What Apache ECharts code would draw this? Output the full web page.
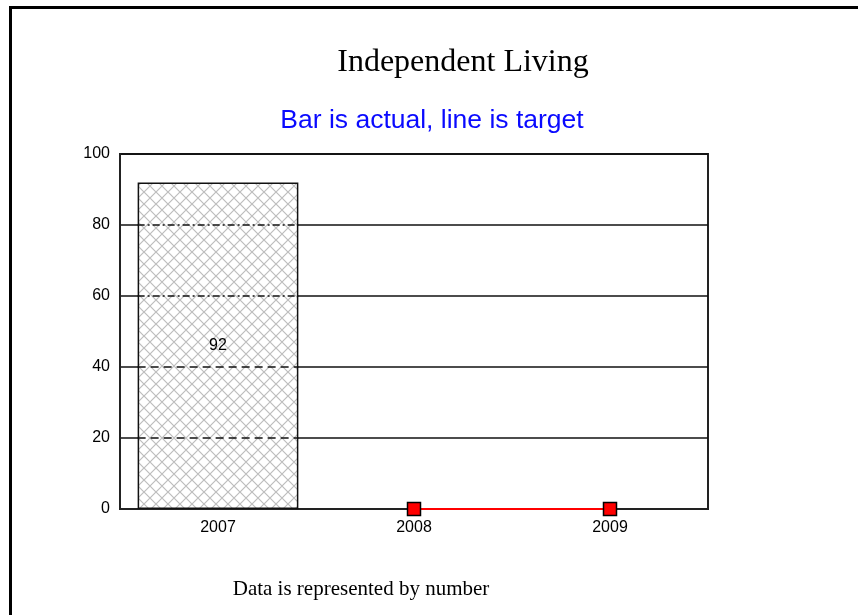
<!DOCTYPE html>
<html>
<head>
<meta charset="utf-8">
<title>Independent Living</title>
<script src="https://cdn.jsdelivr.net/npm/echarts@6/dist/echarts.min.js"></script>
<style>
  html, body { margin: 0; padding: 0; background: #fff; }
  #chart { width: 858px; height: 615px; }
</style>
</head>
<body>
<div id="chart"></div>
<script>
var categories = ['2007', '2008', '2009'];
var actual = [92, null, null];
var target = [null, 0, 0];
var gridLevels = [20, 40, 60, 80];

// crosshatch fill for the bar
function hatch() {
    var c = document.createElement('canvas');
    c.width = 12; c.height = 12;
    var g = c.getContext('2d');
    g.fillStyle = '#fff';
    g.fillRect(0, 0, 12, 12);
    g.strokeStyle = '#bdbdbd';
    g.lineWidth = 1.2;
    g.beginPath();
    g.moveTo(0, 0); g.lineTo(12, 12);
    g.moveTo(12, 0); g.lineTo(0, 12);
    g.stroke();
    return c;
}

// grid lines showing through the bar, dashed
var barLines = [];
for (var i = 0; i < actual.length; i++) {
    if (actual[i] == null) continue;
    for (var j = 0; j < gridLevels.length; j++) {
        if (gridLevels[j] < actual[i]) barLines.push([i, gridLevels[j]]);
    }
}

var chart = echarts.init(document.getElementById('chart'));
chart.setOption({
    animation: false,
    backgroundColor: '#fff',
    title: [
        {
            text: 'Independent Living',
            left: 458, top: 42, textAlign: 'center',
            textStyle: { fontFamily: 'Liberation Serif', fontWeight: 'normal', fontSize: 32, color: '#000' }
        },
        {
            text: 'Bar is actual, line is target',
            left: 427, top: 102, textAlign: 'center',
            textStyle: { fontFamily: 'Liberation Sans', fontWeight: 'normal', fontSize: 26.5, color: '#0a0aff' }
        },
        {
            text: 'Data is represented by number',
            left: 356, top: 574, textAlign: 'center',
            textStyle: { fontFamily: 'Liberation Serif', fontWeight: 'normal', fontSize: 21, color: '#000' }
        }
    ],
    graphic: [
        { type: 'rect', shape: { x: 9, y: 6, width: 849, height: 3 }, style: { fill: '#000' } },
        { type: 'rect', shape: { x: 9, y: 6, width: 3, height: 609 }, style: { fill: '#000' } }
    ],
    grid: {
        left: 120, right: 150, top: 154, bottom: 106,
        show: true, borderColor: '#222', borderWidth: 2, backgroundColor: 'transparent'
    },
    xAxis: {
        type: 'category',
        data: categories,
        axisLine: { lineStyle: { color: '#222', width: 2 } },
        axisTick: { show: false },
        axisLabel: { color: '#000', fontFamily: 'Liberation Sans', fontSize: 16, margin: 11 }
    },
    yAxis: {
        type: 'value',
        min: 0, max: 100, interval: 20,
        axisLine: { show: true, lineStyle: { color: '#222', width: 2 } },
        axisTick: { show: false },
        axisLabel: { color: '#000', fontFamily: 'Liberation Sans', fontSize: 16, margin: 10 },
        splitLine: { lineStyle: { color: '#111', width: 1.6 } }
    },
    series: [
        {
            name: 'Actual',
            type: 'bar',
            data: actual,
            barWidth: '82%',
            itemStyle: {
                color: { image: hatch(), repeat: 'repeat' },
                borderColor: '#111',
                borderWidth: 1.5
            },
            label: {
                show: true, position: 'inside',
                color: '#000', fontFamily: 'Liberation Sans', fontSize: 16
            }
        },
        {
            name: 'GridInBar',
            type: 'custom',
            data: barLines,
            z: 3,
            silent: true,
            renderItem: function (params, api) {
                var p = api.coord([api.value(0), api.value(1)]);
                var half = api.size([1, 0])[0] * 0.82 / 2;
                var dash = api.value(1) > 50 ? [7, 3, 2, 3] : [8, 5];
                return {
                    type: 'line',
                    shape: { x1: p[0] - half, y1: p[1], x2: p[0] + half, y2: p[1] },
                    style: { stroke: '#111', lineWidth: 1.6, lineDash: dash }
                };
            }
        },
        {
            name: 'Target',
            type: 'line',
            data: target,
            z: 5,
            symbol: 'rect',
            symbolSize: 13,
            lineStyle: { color: '#ff0000', width: 2 },
            itemStyle: { color: '#ff0000', borderColor: '#000', borderWidth: 1.5 }
        }
    ]
});
</script>
</body>
</html>
